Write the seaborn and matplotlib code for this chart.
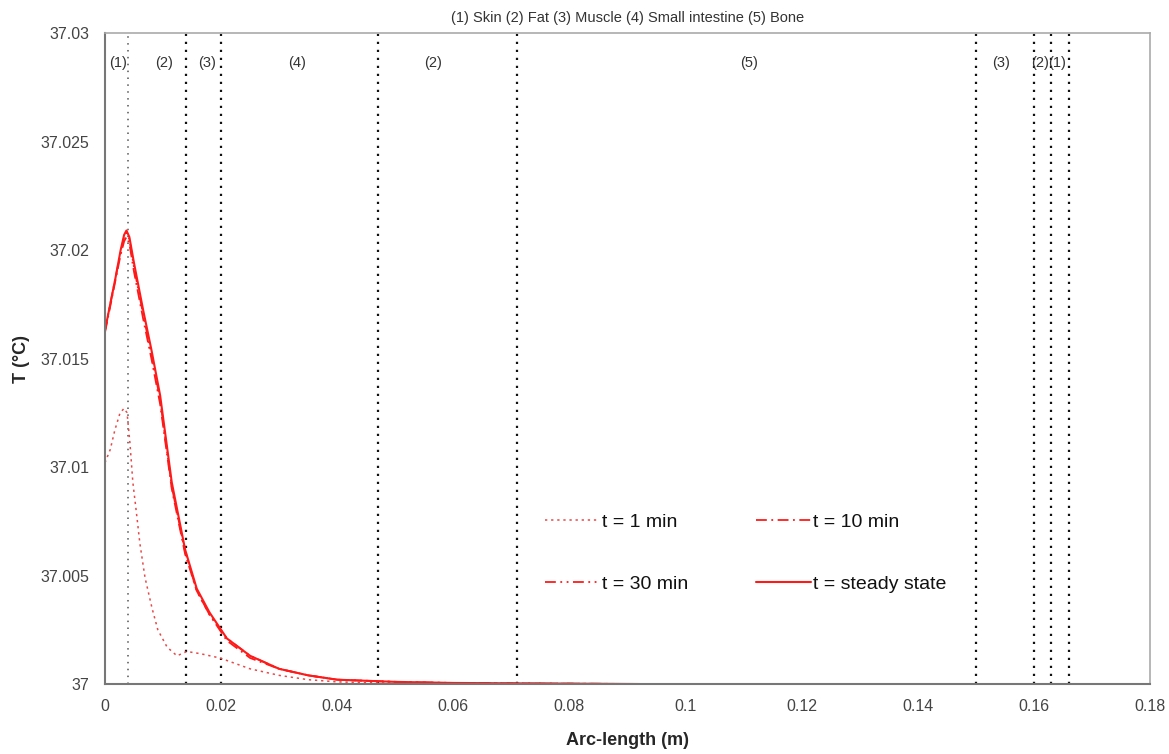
import numpy as np
import pandas as pd
import matplotlib
matplotlib.use('Agg')
import matplotlib.pyplot as plt
import seaborn as sns

# steady state
x_ss = [0, 0.0009, 0.0018, 0.0027, 0.0033, 0.0037, 0.0042, 0.005, 0.0066, 0.008, 0.0095, 0.0115,
        0.0138, 0.0158, 0.018, 0.021, 0.025, 0.03, 0.035, 0.04, 0.05, 0.06, 0.092]
T_ss = [37.0163, 37.0175, 37.0187, 37.0200, 37.0207, 37.0209, 37.0206, 37.0194, 37.0172, 37.0154,
        37.0133, 37.0093, 37.0062, 37.0044, 37.0033, 37.0021, 37.0013, 37.0007, 37.0004, 37.0002,
        37.0001, 37.00005, 37.0]
# t = 10 min
T_10 = [37.0162, 37.0174, 37.0186, 37.0198, 37.0204, 37.0206, 37.0203, 37.0190, 37.0168, 37.0150,
        37.0129, 37.0090, 37.0060, 37.0043, 37.0032, 37.0020, 37.0012, 37.0007, 37.0004, 37.0002,
        37.0001, 37.00004, 37.0]
# t = 30 min
T_30 = [37.0163, 37.0175, 37.0187, 37.0199, 37.0206, 37.0208, 37.0205, 37.0192, 37.0170, 37.0152,
        37.0131, 37.0091, 37.0061, 37.0043, 37.0032, 37.0021, 37.0013, 37.0007, 37.0004, 37.0002,
        37.0001, 37.00005, 37.0]
# t = 1 min
x_1 = [0, 0.0009, 0.0017, 0.0026, 0.0033, 0.0038, 0.0043, 0.0048, 0.0055, 0.006, 0.0069, 0.0081,
       0.0091, 0.0107, 0.0124, 0.0141, 0.0164, 0.0198, 0.025, 0.03, 0.035, 0.04, 0.05, 0.06, 0.092]
T_1 = [37.0102, 37.0108, 37.0117, 37.0125, 37.0127, 37.0125, 37.0111, 37.0093, 37.0077, 37.0065,
       37.0049, 37.0035, 37.0025, 37.0017, 37.0013, 37.0015, 37.0014, 37.0012, 37.0007, 37.0004,
       37.0002, 37.0001, 37.00003, 37.0, 37.0]

# tissue boundaries and labels
boundaries = [0.004, 0.014, 0.020, 0.047, 0.071, 0.150, 0.160, 0.163, 0.166]
region_x = [0.0023, 0.0101, 0.0175, 0.0330, 0.0565, 0.1110, 0.1543, 0.1610, 0.1640]
region_lbl = ['(1)', '(2)', '(3)', '(4)', '(2)', '(5)', '(3)', '(2)', '(1)']

xticks = [0, 0.02, 0.04, 0.06, 0.08, 0.1, 0.12, 0.14, 0.16, 0.18]
xtick_lbl = ['0', '0.02', '0.04', '0.06', '0.08', '0.1', '0.12', '0.14', '0.16', '0.18']
yticks = [37, 37.005, 37.01, 37.015, 37.02, 37.025, 37.03]
ytick_lbl = ['37', '37.005', '37.01', '37.015', '37.02', '37.025', '37.03']

sns.set_style('white')
plt.rcParams['font.family'] = ['Liberation Sans', 'DejaVu Sans']

fig = plt.figure(figsize=(11.69, 7.54), dpi=100)
ax = fig.add_axes([0.0898, 0.0928, 0.8940, 0.8634])

red = '#ff1a1a'
for i, b in enumerate(boundaries):
    if i == 0:
        ax.axvline(b, color='#555555', lw=1.1, ls=(0, (1, 3.5)), zorder=1)
    else:
        ax.axvline(b, color='#111111', lw=1.6, ls=(0, (1, 2.6)), zorder=1)

sns.lineplot(x=x_1, y=T_1, ax=ax, color='#e84848', lw=1.1, ls=(0, (1.5, 2.5)), label='t = 1 min')
sns.lineplot(x=x_ss, y=T_10, ax=ax, color=red, lw=1.3, ls=(0, (6, 2.5, 1, 2.5)), label='t = 10 min')
sns.lineplot(x=x_ss, y=T_30, ax=ax, color=red, lw=1.3, ls=(0, (6, 2.5, 1, 2.5, 1, 2.5)), label='t = 30 min')
sns.lineplot(x=x_ss, y=T_ss, ax=ax, color=red, lw=1.5, ls='-', label='t = steady state')

for xr, lb in zip(region_x, region_lbl):
    ax.text(xr, 37.0286, lb, ha='center', va='center', fontsize=10.5, color='#333333')

ax.set_xlim(0, 0.18)
ax.set_ylim(37, 37.03)
ax.set_xticks(xticks)
ax.set_xticklabels(xtick_lbl)
ax.set_yticks(yticks)
ax.set_yticklabels(ytick_lbl)
ax.tick_params(axis='both', direction='out', length=5, width=1, colors='#777777',
               labelcolor='#444444', labelsize=11.5, pad=6)
for s in ['left', 'bottom']:
    ax.spines[s].set_color('#777777')
    ax.spines[s].set_linewidth(1.5)
for s in ['top', 'right']:
    ax.spines[s].set_color('#aaaaaa')
    ax.spines[s].set_linewidth(1.2)

ax.set_xlabel('Arc-length (m)', fontsize=13, fontweight='bold', labelpad=13)
ax.set_ylabel('T (°C)', fontsize=13, fontweight='bold', labelpad=8)
ax.set_title('(1) Skin (2) Fat (3) Muscle (4) Small intestine (5) Bone', fontsize=10.5,
             color='#333333', pad=8)

h, l = ax.get_legend_handles_labels()
order = [0, 2, 1, 3]
leg = ax.legend([h[i] for i in order], [l[i] for i in order], ncol=2, frameon=False,
                loc='center', bbox_to_anchor=(0.613, 0.201), fontsize=14,
                handlelength=2.85, handletextpad=0.1, columnspacing=3.45, labelspacing=2.3)
for t in leg.get_texts():
    t.set_color('#111111')

fig.savefig('out.png', dpi=100)
